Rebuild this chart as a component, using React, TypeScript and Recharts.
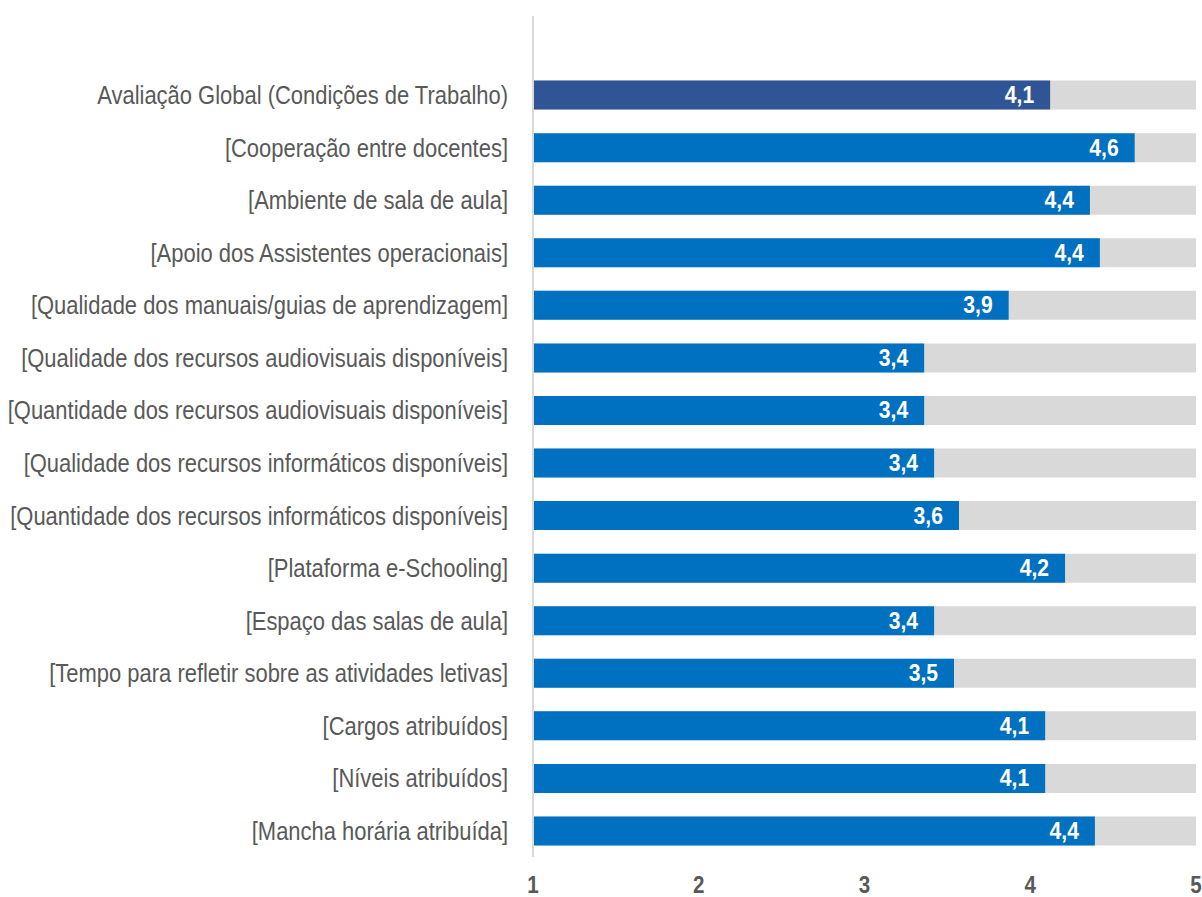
import { BarChart, Bar, XAxis, YAxis, Cell, LabelList } from 'recharts'

const categories = [
  'Avaliação Global (Condições de Trabalho)',
  '[Cooperação entre docentes]',
  '[Ambiente de sala de aula]',
  '[Apoio dos Assistentes operacionais]',
  '[Qualidade dos manuais/guias de aprendizagem]',
  '[Qualidade dos recursos audiovisuais disponíveis]',
  '[Quantidade dos recursos audiovisuais disponíveis]',
  '[Qualidade dos recursos informáticos disponíveis]',
  '[Quantidade dos recursos informáticos disponíveis]',
  '[Plataforma e-Schooling]',
  '[Espaço das salas de aula]',
  '[Tempo para refletir sobre as atividades letivas]',
  '[Cargos atribuídos]',
  '[Níveis atribuídos]',
  '[Mancha horária atribuída]',
]

const scores = [4.12, 4.63, 4.36, 4.42, 3.87, 3.36, 3.36, 3.42, 3.57, 4.21, 3.42, 3.54, 4.09, 4.09, 4.39]

const xTicks = [1, 2, 3, 4, 5]

const data = categories.map((name, i) => ({ name, score: scores[i] }))

// Arial Narrow look-alike: Liberation Sans squeezed horizontally
const FONT = "'Liberation Sans', Arial, sans-serif"

const fmt = (v: number) => v.toFixed(1).replace('.', ',')

function NarrowText({ x, y, anchor, size, bold, fill, squeeze, children }: any) {
  return (
    <text
      transform={`translate(${x},${y}) scale(${squeeze},1)`}
      textAnchor={anchor}
      dominantBaseline="central"
      fill={fill}
      fontFamily={FONT}
      fontWeight={bold ? 'bold' : 'normal'}
      fontSize={size}
    >
      {children}
    </text>
  )
}

function CategoryTick(props: any) {
  const { x, y, payload } = props
  return (
    <NarrowText x={x} y={y} anchor="end" size={26} squeeze={0.845} fill="#595959">
      {payload.value}
    </NarrowText>
  )
}

function ScoreTick(props: any) {
  const { x, y, payload } = props
  return (
    <NarrowText x={x} y={y} anchor="middle" size={24} squeeze={0.86} bold fill="#595959">
      {payload.value}
    </NarrowText>
  )
}

function ValueLabel(props: any) {
  const { x, y, width, height, value } = props
  return (
    <NarrowText x={x + width - 16} y={y + height / 2} anchor="end" size={24} squeeze={0.88} bold fill="#ffffff">
      {fmt(value)}
    </NarrowText>
  )
}

export default function App() {
  return (
    <div style={{ position: 'absolute', left: 0, top: 0, width: 1202, height: 897, background: '#fff' }}>
      <BarChart
        width={1202}
        height={897}
        data={data}
        layout="vertical"
        margin={{ top: 16, right: 6, bottom: 0, left: 0 }}
      >
        <XAxis
          type="number"
          domain={[1, 5]}
          ticks={xTicks}
          height={40}
          axisLine={false}
          tickLine={false}
          tickSize={0}
          tickMargin={28}
          tick={<ScoreTick />}
        />
        <YAxis
          type="category"
          dataKey="name"
          width={533}
          padding={{ top: 52.6, bottom: 0 }}
          axisLine={{ stroke: '#D9D9D9', strokeWidth: 2 }}
          tickLine={false}
          tickSize={0}
          tickMargin={25}
          interval={0}
          tick={<CategoryTick />}
        />
        <Bar dataKey="score" barSize={29} background={{ fill: '#D9D9D9' }} isAnimationActive={false}>
          {data.map((d, i) => (
            <Cell key={d.name} fill={i === 0 ? '#2F5597' : '#0070C0'} />
          ))}
          <LabelList dataKey="score" content={ValueLabel} />
        </Bar>
      </BarChart>
    </div>
  )
}
